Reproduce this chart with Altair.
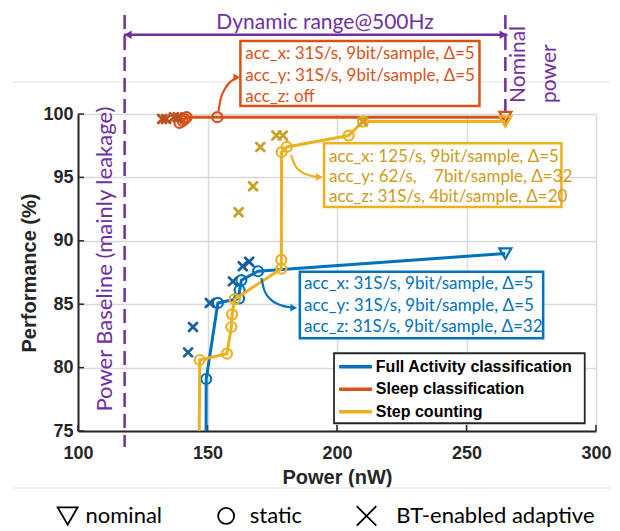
import altair as alt
import pandas as pd

# ---------------- data ----------------
SERIES = ["Full Activity classification", "Sleep classification", "Step counting"]
LINE_COLORS = ["#0072BD", "#D95319", "#EDB120"]
BT_COLORS = ["#17609F", "#B8501F", "#C9A028"]
TEXT_COLORS = ["#0072BD", "#D95319", "#D09A1A"]

X_TICKS = [100, 150, 200, 250, 300]
Y_TICKS = [75, 80, 85, 90, 95, 100]

# static configurations (power nW, performance %); first point of two sweeps lies below the axis
full_static_power = [149.3, 149.5, 154.0, 162.2, 162.4, 163.1, 169.5]
full_static_perf = [60.0, 79.1, 85.1, 85.45, 86.1, 86.9, 87.6]
sleep_static_power = [139.2, 140.4, 141.2, 141.9, 153.8]
sleep_static_perf = [99.3, 99.45, 99.6, 99.75, 99.75]
step_static_power = [146.3, 147.0, 157.5, 159.2, 159.5, 160.5, 178.5, 178.5, 178.6, 180.6, 204.5, 210.0]
step_static_perf = [60.0, 80.6, 81.1, 83.2, 84.2, 85.4, 87.8, 88.5, 97.0, 97.4, 98.3, 99.4]

# nominal operating points
nominal_power = [265.0, 265.0, 265.0]
nominal_perf = [89.0, 99.75, 99.4]

# BT-enabled adaptive configurations
full_bt_power = [142.5, 144.4, 150.9, 159.8, 163.6, 166.1]
full_bt_perf = [81.2, 83.2, 85.1, 86.8, 88.0, 88.35]
sleep_bt_power = [132.5, 134.0, 137.0, 138.5]
sleep_bt_perf = [99.6, 99.6, 99.75, 99.75]
step_bt_power = [162.0, 167.6, 170.4, 176.6, 179.1, 210.0]
step_bt_perf = [92.25, 94.3, 97.4, 98.3, 98.3, 99.4]

# annotation texts
full_box_text = ["acc_x: 31S/s, 9bit/sample, \u0394=5",
                 "acc_y: 31S/s, 9bit/sample, \u0394=5",
                 "acc_z: 31S/s, 9bit/sample, \u0394=32"]
sleep_box_text = ["acc_x: 31S/s, 9bit/sample, \u0394=5",
                  "acc_y: 31S/s, 9bit/sample, \u0394=5",
                  "acc_z: off"]
step_box_text = ["acc_x: 125/s, 9bit/sample, \u0394=5",
                 "acc_y: 62/s,\u00a0\u00a0\u00a0 7bit/sample, \u0394=32",
                 "acc_z: 31S/s, 4bit/sample, \u0394=20"]
baseline_power = 118.0
legend_symbols = ["nominal", "static", "BT-enabled adaptive"]

# ---------------- helpers ----------------
FONT_AX = "Liberation Sans"
FONT_NOTE = "Lato"
PURPLE = "#7030A0"
DARK = "#262626"

xs = alt.Scale(domain=[100, 300], nice=False, zero=False)
ys = alt.Scale(domain=[75, 100], nice=False, zero=False)
xaxis = alt.Axis(values=X_TICKS, title="Power (nW)", format="d", grid=True, gridColor="#d9d9d9",
                 gridWidth=1.5, ticks=False, domainColor=DARK, domainWidth=2, labelFont=FONT_AX,
                 labelFontSize=18, labelFontWeight="bold", labelColor=DARK, labelPadding=13,
                 labelFlush=False, titleFont=FONT_AX, titleFontSize=20, titleFontWeight="bold",
                 titleColor=DARK, titlePadding=5)
yaxis = alt.Axis(values=Y_TICKS, title="Performance (%)", format="d", grid=True, gridColor="#d9d9d9",
                 gridWidth=1.5, ticks=False, domainColor=DARK, domainWidth=2, labelFont=FONT_AX,
                 labelFontSize=18, labelFontWeight="bold", labelColor=DARK, labelPadding=5,
                 labelFlush=False, titleFont=FONT_AX, titleFontSize=20, titleFontWeight="bold",
                 titleColor=DARK, titlePadding=3)


def X(f="power"):
    return alt.X(f"{f}:Q", scale=xs, axis=xaxis)


def Y(f="perf"):
    return alt.Y(f"{f}:Q", scale=ys, axis=yaxis)


def pts(p, q, **extra):
    d = pd.DataFrame({"power": p, "perf": q})
    d["idx"] = range(len(d))
    for k, v in extra.items():
        d[k] = v
    return d


layers = []

# faint separators of the figure panel
sep = pd.DataFrame({"power": [74.6, 74.6], "power2": [305.4, 305.4], "perf": [102.52, 70.5]})
layers.append(alt.Chart(sep).mark_rule(color="#ececec", strokeWidth=1.5, clip=False).encode(
    x=X(), x2=alt.X2("power2:Q"), y=Y()))

# axis ticks pointing inwards
layers.append(alt.Chart(pd.DataFrame({"power": X_TICKS})).mark_rule(color=DARK, strokeWidth=1.5).encode(
    x=X(), y=alt.value(317), y2=alt.value(311)))
layers.append(alt.Chart(pd.DataFrame({"perf": Y_TICKS})).mark_rule(color=DARK, strokeWidth=1.5).encode(
    y=Y(), x=alt.value(0), x2=alt.value(6)))

# purple dynamic-range annotation
dash = pd.DataFrame({"power": [baseline_power, nominal_power[0]], "perf": [107.8, 107.8],
                     "perf2": [73.74, 99.84]})
layers.append(alt.Chart(dash).mark_rule(color=PURPLE, strokeWidth=2.5, strokeDash=[14, 7], clip=False).encode(
    x=X(), y=Y(), y2=alt.Y2("perf2:Q")))
arr = pd.DataFrame({"power": [117.7], "power2": [265.8], "perf": [106.25]})
layers.append(alt.Chart(arr).mark_rule(color=PURPLE, strokeWidth=2.5, clip=False).encode(
    x=X(), x2=alt.X2("power2:Q"), y=Y()))
heads = pd.DataFrame({"power": [119.3, 264.2], "perf": [106.25, 106.25], "shape": ["triangle-left", "triangle-right"]})
layers.append(alt.Chart(heads).mark_point(filled=True, size=70, color=PURPLE, opacity=1, clip=False).encode(
    x=X(), y=Y(), shape=alt.Shape("shape:N", scale=None)))
ptxt = pd.DataFrame({"power": [195.4], "perf": [107.15], "label": ["Dynamic range@500Hz"]})
layers.append(alt.Chart(ptxt).mark_text(font=FONT_NOTE, fontSize=21, color=PURPLE, baseline="middle").encode(
    x=X(), y=Y(), text="label:N"))
btxt = pd.DataFrame({"power": [110.4], "perf": [88.56], "label": ["Power Baseline (mainly leakage)"]})
layers.append(alt.Chart(btxt).mark_text(font=FONT_NOTE, fontSize=22, color=PURPLE, angle=270,
                                        baseline="middle", align="center").encode(
    x=X(), y=Y(), text="label:N"))
ntxt = pd.DataFrame({"power": [270.4, 282.3], "perf": [100.87, 100.87], "label": ["Nominal", "power"]})
layers.append(alt.Chart(ntxt).mark_text(font=FONT_NOTE, fontSize=21, color=PURPLE, angle=270,
                                        baseline="middle", align="left").encode(
    x=X(), y=Y(), text="label:N"))

# data series
static = [(full_static_power, full_static_perf), (sleep_static_power, sleep_static_perf),
          (step_static_power, step_static_perf)]
bts = [(full_bt_power, full_bt_perf), (sleep_bt_power, sleep_bt_perf), (step_bt_power, step_bt_perf)]
for i, s in enumerate(SERIES):
    sp, sq = static[i]
    line_df = pts(sp + [nominal_power[i]], sq + [nominal_perf[i]])
    layers.append(alt.Chart(line_df).mark_line(color=LINE_COLORS[i], strokeWidth=3, clip=True).encode(
        x=X(), y=Y(), order="idx:Q"))
    circ = pts(sp, sq)
    circ = circ[circ["perf"] >= 75]
    layers.append(alt.Chart(circ).mark_point(shape="circle", filled=False, size=100, strokeWidth=2.2,
                                             color=LINE_COLORS[i], opacity=1).encode(x=X(), y=Y()))
    bp, bq = bts[i]
    layers.append(alt.Chart(pts(bp, bq)).mark_point(shape="M-1,-1L1,1M1,-1L-1,1", filled=False, size=64,
                                                    strokeWidth=2.8, strokeCap="round",
                                                    color=BT_COLORS[i], opacity=1).encode(x=X(), y=Y()))
    layers.append(alt.Chart(pts([nominal_power[i]], [nominal_perf[i]])).mark_point(
        shape="triangle-down", filled=False, size=144, strokeWidth=2.2, color=LINE_COLORS[i], opacity=1
    ).encode(x=X(), y=Y()))

# annotation boxes with curved arrows
boxes = [
    (185.65, 279.6, 87.56, 82.31, 187.3, [86.59, 84.88, 83.18],
     [170.8, 171.9, 174.2, 178.1, 183.3], [87.07, 86.12, 85.41, 84.94, 84.72], full_box_text),
    (162.7, 255.0, 105.76, 100.63, 164.6, [104.73, 103.0, 101.34],
     [154.23, 155.0, 156.9, 159.2, 161.3], [100.24, 101.1, 102.05, 102.6, 102.88], sleep_box_text),
    (195.0, 286.65, 97.69, 92.67, 196.9, [96.63, 95.01, 93.43],
     [182.3, 183.5, 185.8, 189.6, 193.2], [96.77, 96.06, 95.5, 95.15, 95.03], step_box_text),
]
for i, (x0, x1, yt, yb, tx, tys, ax, ay, txt) in enumerate(boxes):
    adf = pts(ax, ay)
    layers.append(alt.Chart(adf).mark_line(color=LINE_COLORS[i], strokeWidth=2.2, interpolate="monotone",
                                           clip=False).encode(x=X(), y=Y(), order="idx:Q"))
    layers.append(alt.Chart(pts([ax[-1]], [ay[-1]])).mark_point(shape="triangle-right", filled=True, size=60,
                                                                 color=LINE_COLORS[i], opacity=1, clip=False
                                                                 ).encode(x=X(), y=Y()))
    rdf = pd.DataFrame({"power": [x0], "power2": [x1], "perf": [yt], "perf2": [yb]})
    layers.append(alt.Chart(rdf).mark_rect(fill="white", stroke=LINE_COLORS[i], strokeWidth=2.5,
                                           clip=False).encode(
        x=X(), x2=alt.X2("power2:Q"), y=Y(), y2=alt.Y2("perf2:Q")))
    tdf = pd.DataFrame({"power": [tx] * 3, "perf": tys, "label": txt})
    layers.append(alt.Chart(tdf).mark_text(font=FONT_NOTE, fontSize=17, color=TEXT_COLORS[i], align="left",
                                           baseline="middle", clip=False).encode(
        x=X(), y=Y(), text="label:N"))

# series legend (inside plot)
leg_box = pd.DataFrame({"power": [198.85], "power2": [295.65], "perf": [81.13], "perf2": [75.61]})
layers.append(alt.Chart(leg_box).mark_rect(fill="white", stroke=DARK, strokeWidth=1.8).encode(
    x=X(), x2=alt.X2("power2:Q"), y=Y(), y2=alt.Y2("perf2:Q")))
leg = pd.DataFrame({"series": SERIES, "power": [200.8] * 3, "power2": [213.5] * 3,
                    "tpower": [215.0] * 3, "perf": [80.07, 78.29, 76.52]})
cscale = alt.Scale(domain=SERIES, range=LINE_COLORS)
layers.append(alt.Chart(leg).mark_rule(strokeWidth=3.5).encode(
    x=X(), x2=alt.X2("power2:Q"), y=Y(), color=alt.Color("series:N", scale=cscale, legend=None)))
layers.append(alt.Chart(leg).mark_text(font=FONT_AX, fontSize=16, fontWeight="bold", color="black",
                                       align="left", baseline="middle").encode(
    x=X("tpower"), y=Y(), text="series:N"))

# marker-type legend below the chart
sym = pd.DataFrame({"power": [96.0, 157.2, 211.4], "perf": [68.3] * 3,
                    "shape": ["triangle-down", "circle", "M-1,-1L1,1M1,-1L-1,1"],
                    "size": [400, 256, 380]})
layers.append(alt.Chart(sym).mark_point(filled=False, color="black", strokeWidth=1.8, opacity=1,
                                        clip=False).encode(
    x=X(), y=Y(), shape=alt.Shape("shape:N", scale=None), size=alt.Size("size:Q", scale=None)))
symt = pd.DataFrame({"power": [102.9, 166.3, 222.9], "perf": [68.3] * 3, "label": legend_symbols})
layers.append(alt.Chart(symt).mark_text(font=FONT_NOTE, fontSize=22, color="black", align="left",
                                        baseline="middle", clip=False).encode(
    x=X(), y=Y(), text="label:N"))

chart = alt.layer(*layers).properties(
    width=518, height=317,
    padding={"left": 70, "top": 106, "right": 16, "bottom": 97},
    autosize=alt.AutoSizeParams(type="none"),
).configure(background="white").configure_view(stroke=None)

chart.save("out.html", embed_options={"renderer": "svg", "actions": False})
